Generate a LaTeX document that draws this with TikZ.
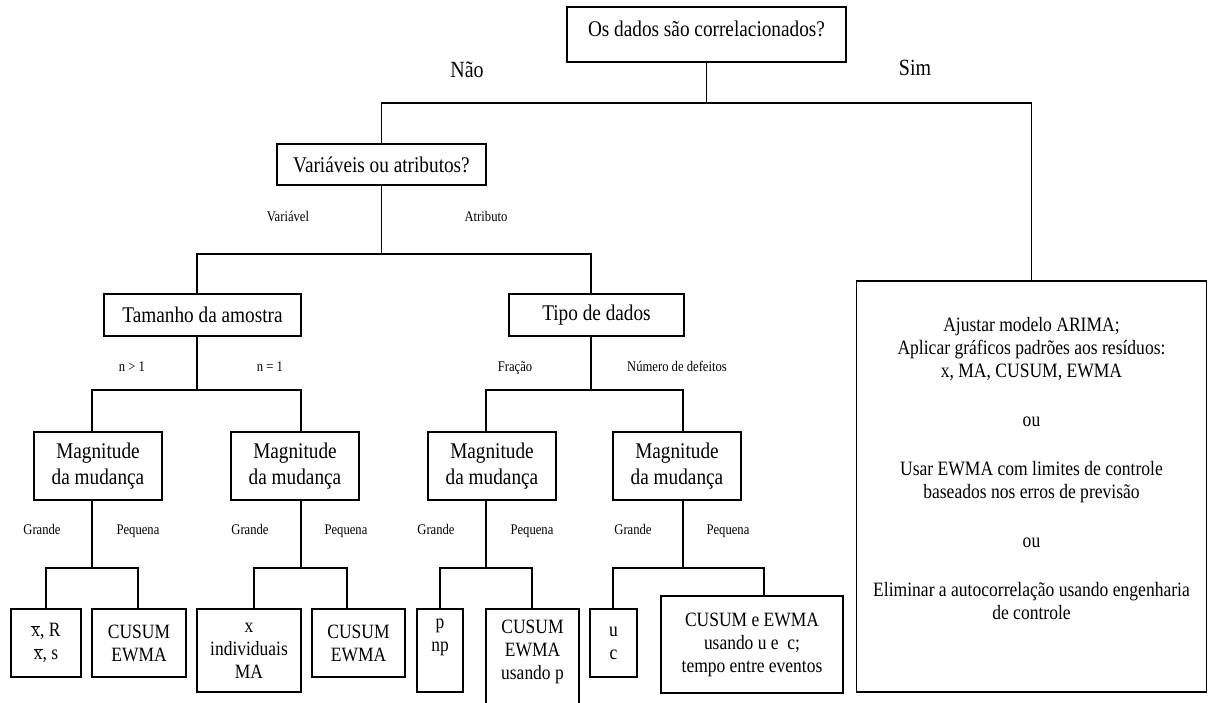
\documentclass[tikz,border=0pt]{standalone}
\usepackage{fontspec}
\setmainfont{Liberation Serif}[FakeStretch=0.86]
\usepackage{tikz}
\usetikzlibrary{positioning}
\newcommand{\xbarra}{\ensuremath{\overline{\mbox{x}}}}

\begin{document}
\begin{tikzpicture}[
  x=1pt,y=-1pt,
  box/.style={draw,line width=1.1pt,inner sep=2pt,align=center,font=\fontsize{22.4}{23}\selectfont},
  leaf/.style={box,font=\fontsize{20.3}{23}\selectfont},
  mag/.style={box,minimum width=128pt,minimum height=68pt,font=\fontsize{22.4}{26}\selectfont},
  lbl/.style={anchor=base,font=\fontsize{14.7}{16}\selectfont},
  resp/.style={anchor=base,font=\fontsize{23.2}{24}\selectfont},
  lin/.style={line width=1.1pt}
]
\clip (0,0) rectangle (1210,702);
\node[box,minimum width=279pt,minimum height=55pt,text depth=12pt] (q1) at (706.5,34.5) {Os dados são correlacionados?};
\node[resp] (nao) at (467,77) {Não};
\node[resp] (sim) at (915,75) {Sim};
\node[box,minimum width=209pt,minimum height=41pt] (var) at (381.5,164.5) {Variáveis ou atributos?};
\node[box,minimum width=350pt,minimum height=411pt,font=\fontsize{20.4}{23}\selectfont] (dir) at (1031.5,486.5)
  {Ajustar modelo ARIMA;\\Aplicar gráficos padrões aos resíduos:\\x, MA, CUSUM, EWMA\\[26pt]ou\\[26pt]Usar EWMA com limites de controle\\baseados nos erros de previsão\\[26pt]ou\\[26pt]Eliminar a autocorrelação usando engenharia\\de controle\\[6pt]\strut};
\node[lbl] (lvar) at (288,221) {Variável};
\node[lbl] (latr) at (486,221) {Atributo};
\node[box,minimum width=197pt,minimum height=42pt] (tam) at (202.5,315) {Tamanho da amostra};
\node[box,minimum width=175pt,minimum height=42pt] (tipo) at (596.5,315) {Tipo de dados};
\node[lbl] (ln1) at (132,371) {n > 1};
\node[lbl] (ln2) at (270,371) {n = 1};
\node[lbl] (lfr) at (515,371) {Fração};
\node[lbl] (lnd) at (677,371) {Número de defeitos};
\node[mag] (m1) at (98,466) {Magnitude\\da mudança};
\node[mag] (m2) at (295,466) {Magnitude\\da mudança};
\node[mag] (m3) at (492,466) {Magnitude\\da mudança};
\node[mag] (m4) at (677,466) {Magnitude\\da mudança};
\node[lbl] (g1) at (42,534) {Grande};
\node[lbl] (p1) at (138,534) {Pequena};
\node[lbl] (g2) at (250,534) {Grande};
\node[lbl] (p2) at (346,534) {Pequena};
\node[lbl] (g3) at (436,534) {Grande};
\node[lbl] (p3) at (532,534) {Pequena};
\node[lbl] (g4) at (633,534) {Grande};
\node[lbl] (p4) at (728,534) {Pequena};
\node[leaf,minimum width=70pt,minimum height=68pt] (l1) at (46,643) {\xbarra, R\\\xbarra, s};
\node[leaf,minimum width=94pt,minimum height=68pt] (l2) at (139,643) {CUSUM\\EWMA};
\node[leaf,minimum width=104pt,minimum height=83pt] (l3) at (249,650.5) {x\\individuais\\MA};
\node[leaf,minimum width=93pt,minimum height=68pt] (l4) at (358.5,643) {CUSUM\\EWMA};
\node[leaf,minimum width=46pt,minimum height=83pt] (l5) at (440,650.5) {p\\np\\\strut};
\node[leaf,minimum width=93pt,minimum height=111pt] (l6) at (532.5,664.5) {CUSUM\\EWMA\\usando p\\\strut};
\node[leaf,minimum width=47pt,minimum height=68pt] (l7) at (613.5,643) {u\\c};
\node[leaf,minimum width=182pt,minimum height=97pt] (l8) at (752,644.5) {CUSUM e EWMA\\usando u e~ c;\\tempo entre eventos};
\draw[lin] (q1) -- (706.5,103);
\draw[lin] (var) |- (1031.5,103) -- (dir);
\draw[lin] (var) -- (381.5,254);
\draw[lin] (tam.north -| 197,0) |- (591,254) -- (tipo.north -| 591,0);
\draw[lin] (tam.south -| 197,0) -- (197,390);
\draw[lin] (m1.north -| 92,0) |- (301,390) -- (m2.north -| 301,0);
\draw[lin] (tipo.south -| 591,0) -- (591,390);
\draw[lin] (m3.north -| 486,0) |- (683,390) -- (m4.north -| 683,0);
\draw[lin] (m1.south -| 92,0) -- (92,568);
\draw[lin] (l1.north -| 46,0) |- (138,568) -- (l2.north -| 138,0);
\draw[lin] (m2.south -| 301,0) -- (301,568);
\draw[lin] (l3.north -| 254,0) |- (347,568) -- (l4.north -| 347,0);
\draw[lin] (m3.south -| 486,0) -- (486,568);
\draw[lin] (l5.north -| 440,0) |- (532,568) -- (l6.north -| 532,0);
\draw[lin] (m4.south -| 683,0) -- (683,568);
\draw[lin] (l7.north -| 613,0) |- (764,568) -- (l8.north -| 764,0);
\end{tikzpicture}
\end{document}
